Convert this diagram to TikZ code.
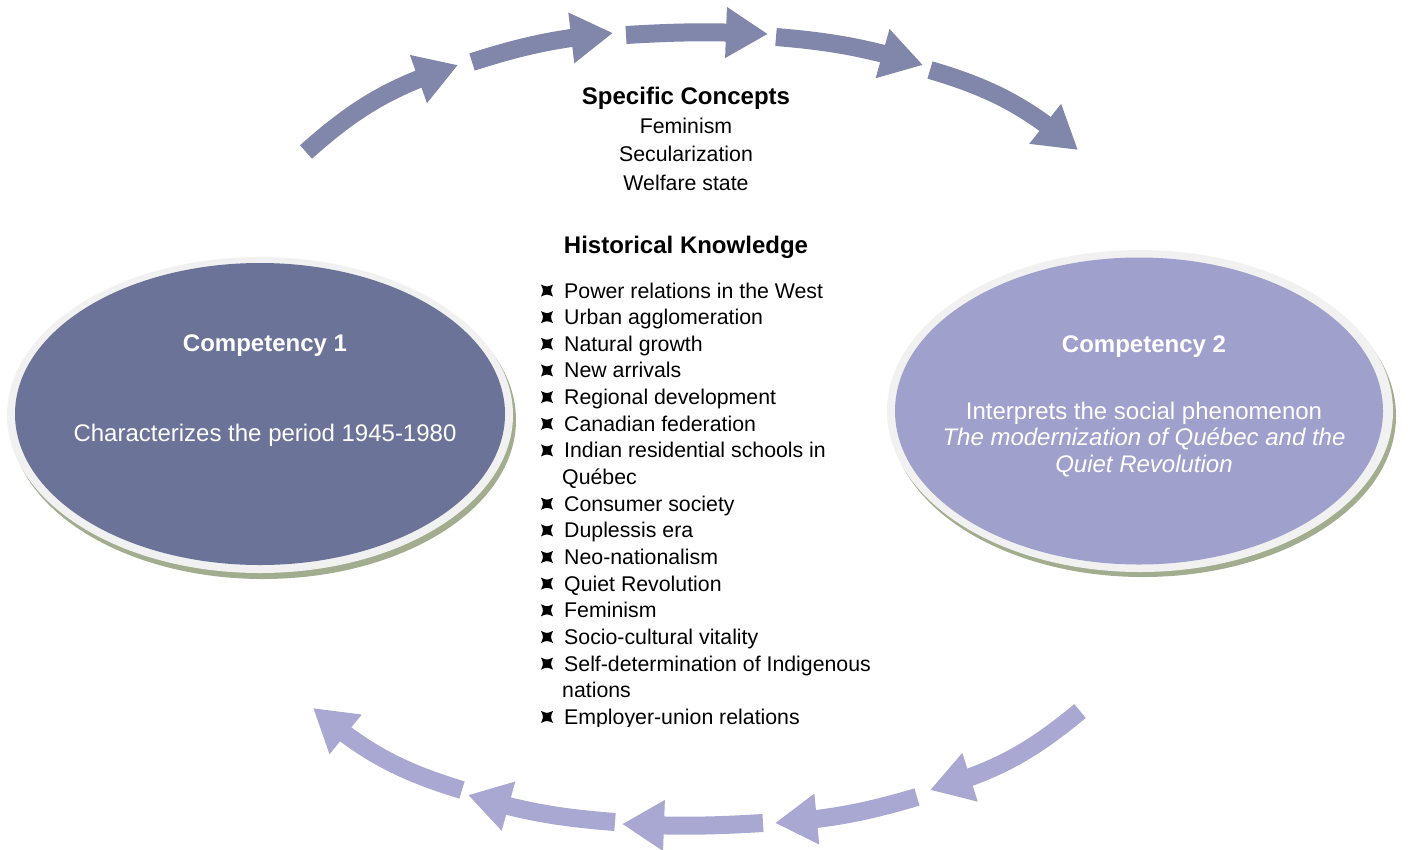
\documentclass[tikz,border=0pt]{standalone}
\usepackage{fontspec}
\setmainfont{Liberation Sans}
\usetikzlibrary{arrows.meta,bending,shapes.geometric}
\definecolor{arrowtop}{RGB}{128,135,170}
\definecolor{arrowbot}{RGB}{168,168,210}
\definecolor{compone}{RGB}{107,115,152}
\definecolor{comptwo}{RGB}{160,160,204}
\definecolor{rimgrey}{RGB}{241,241,241}
\definecolor{shadowgreen}{RGB}{162,172,142}
\tikzset{
  bigarrow/.style={line width=18pt, -{Triangle[length=42pt,width=48pt,flex]}},
  toparrow/.style={bigarrow, draw=arrowtop, arrowtop},
  botarrow/.style={bigarrow, draw=arrowbot, arrowbot},
  ovalshadow/.style={ellipse, fill=shadowgreen, inner sep=0pt},
  ovalrim/.style={ellipse, fill=rimgrey, inner sep=0pt},
  ovalfill/.style={ellipse, inner sep=0pt},
  headtext/.style={font=\fontsize{24}{28}\selectfont\bfseries, anchor=base},
  conceptext/.style={font=\fontsize{21.3}{26}\selectfont, anchor=base},
  itemtext/.style={font=\fontsize{21.3}{26.65}\selectfont, anchor=base west, inner sep=0pt},
  ovaltext/.style={font=\fontsize{24}{27}\selectfont, text=white, anchor=base, align=center},
  hkbullet/.pic={\fill[black] (-6,-6) .. controls (0,-3.4) .. (6,-6) .. controls (3.4,0) .. (6,6) .. controls (0,3.4) .. (-6,6) .. controls (-3.4,0) .. cycle;}
}
\begin{document}
\begin{tikzpicture}[x=1pt,y=-1pt]
\useasboundingbox (0,0) rectangle (1408,849);

% ---- Competency 1 oval
\node[ovalshadow, minimum width=506pt, minimum height=318pt] (c1s) at (263,420) {};
\node[ovalrim, minimum width=506pt, minimum height=316pt] (c1r) at (260,415) {};
\node[ovalfill, fill=compone, minimum width=490pt, minimum height=302pt] (c1) at (260,414) {};
\node[ovaltext, font=\fontsize{24}{27}\selectfont\bfseries] (c1title) at (265,351) {Competency 1};
\node[ovaltext] (c1body) at (265,441) {Characterizes the period 1945-1980};

% ---- Competency 2 oval
\node[ovalshadow, minimum width=506pt, minimum height=322pt] (c2s) at (1143,416) {};
\node[ovalrim, minimum width=506pt, minimum height=322pt] (c2r) at (1140,411) {};
\node[ovalfill, fill=comptwo, minimum width=488pt, minimum height=307pt] (c2) at (1139,411) {};
\node[ovaltext, font=\fontsize{24}{27}\selectfont\bfseries] (c2title) at (1144,352) {Competency 2};
\node[ovaltext] (c2l1) at (1144,419) {Interprets the social phenomenon};
\node[ovaltext, font=\fontsize{24}{27}\selectfont\itshape] (c2l2) at (1144,445) {The modernization of Québec and the};
\node[ovaltext, font=\fontsize{24}{27}\selectfont\itshape] (c2l3) at (1144,472) {Quiet Revolution};

% ---- Specific concepts
\node[headtext] (sc) at (686,104) {Specific Concepts};
\node[conceptext] (sc1) at (686,133) {Feminism};
\node[conceptext] (sc2) at (686,161) {Secularization};
\node[conceptext] (sc3) at (686,190) {Welfare state};

% ---- Historical knowledge
\node[headtext] (hk) at (686,253) {Historical Knowledge};
\foreach \i/\t/\b in {0/Power relations in the West/1, 1/Urban agglomeration/1, 2/Natural growth/1, 3/New arrivals/1, 4/Regional development/1, 5/Canadian federation/1, 6/Indian residential schools in/1, 7/Québec/0, 8/Consumer society/1, 9/Duplessis era/1, 10/Neo-nationalism/1, 11/Quiet Revolution/1, 12/Feminism/1, 13/Socio-cultural vitality/1, 14/Self-determination of Indigenous/1, 15/nations/0}{
  \pgfmathsetmacro{\yy}{298+26.65*\i}
  \ifnum\b=1
    \node[itemtext] (hk\i) at (564,\yy) {\t};
    \pic at (547,\yy-7.5) {hkbullet};
  \else
    \node[itemtext] (hk\i) at (562,\yy) {\t};
  \fi
}
\begin{scope}
  \clip (500,690) rectangle (900,726.5);
  \node[itemtext] (hk16) at (564,724.4) {Employer-union relations};
\end{scope}
\pic at (547,716.9) {hkbullet};

% ---- top arrows
\coordinate (a1s) at (306,152); \coordinate (a1e) at (458,65);
\coordinate (a2s) at (472,62);  \coordinate (a2e) at (613,33);
\coordinate (a3s) at (626,35);  \coordinate (a3e) at (768,34);
\coordinate (a4s) at (776,37);  \coordinate (a4e) at (923,65);
\coordinate (a5s) at (930,70);  \coordinate (a5e) at (1078,150);
\draw[toparrow] (a1s) to[bend left=12] (a1e);
\draw[toparrow] (a2s) to[bend left=6] (a2e);
\draw[toparrow] (a3s) to[bend left=3] (a3e);
\draw[toparrow] (a4s) to[bend left=6] (a4e);
\draw[toparrow] (a5s) to[bend left=12] (a5e);

% ---- bottom arrows
\coordinate (b1s) at (1080,711); \coordinate (b1e) at (930,790);
\coordinate (b2s) at (917,797);  \coordinate (b2e) at (775,823);
\coordinate (b3s) at (763,823);  \coordinate (b3e) at (622,824);
\coordinate (b4s) at (615,822);  \coordinate (b4e) at (468,795);
\coordinate (b5s) at (462,790);  \coordinate (b5e) at (313,708);
\draw[botarrow] (b1s) to[bend left=12] (b1e);
\draw[botarrow] (b2s) to[bend left=6] (b2e);
\draw[botarrow] (b3s) to[bend left=3] (b3e);
\draw[botarrow] (b4s) to[bend left=6] (b4e);
\draw[botarrow] (b5s) to[bend left=12] (b5e);
\end{tikzpicture}
\end{document}
